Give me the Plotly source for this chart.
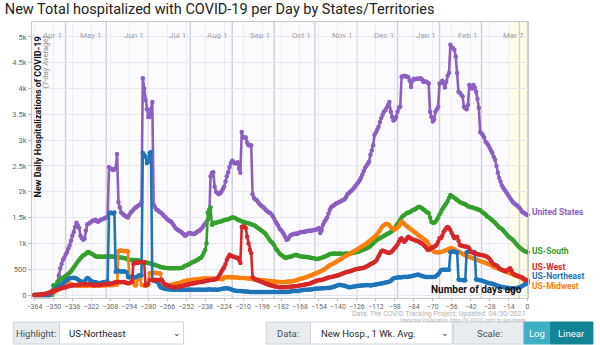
import plotly.graph_objects as go

# ---- data: 7-day average new hospitalizations, by days before Mar 7 2021 ----
days = list(range(-364, 1))

united_states = [
    0, 0, 0, 0, 0, 0, 0, 0, 0, 0, 0, 0, 50, 80,
    100, 120, 180, 250, 380, 520, 600, 680, 720, 780, 830, 900, 960, 1050,
    1150, 1220, 1320, 1400, 1350, 1300, 1150, 1100, 1070, 1090, 1250, 1370, 1380, 1400,
    1420, 1440, 1450, 1460, 1430, 1420, 1440, 1460, 1470, 1480, 1490, 1500, 1500, 2480,
    2450, 2440, 2420, 2430, 2460, 2730, 1800, 1700, 1600, 1580, 1550, 1530, 1510, 1500,
    1550, 1600, 1620, 1650, 1680, 1700, 1720, 1740, 1750, 1800, 4200, 4000, 3780, 3600,
    3450, 3450, 3600, 3740, 1750, 1700, 1650, 1640, 1620, 1600, 1580, 1550, 1520, 1500,
    1470, 1450, 1430, 1420, 1380, 1340, 1300, 1280, 1260, 1240, 1230, 1200, 1180, 1150,
    1160, 1180, 1200, 1200, 1190, 1180, 1180, 1200, 1220, 1240, 1250, 1280, 1310, 1350,
    1380, 1420, 1460, 1500, 2300, 2370, 2380, 2100, 2000, 1980, 1950, 1970, 2000, 2050,
    2100, 2200, 2300, 2380, 2480, 2560, 2600, 2570, 2550, 2560, 2570, 2450, 2370, 3160,
    3050, 3050, 3050, 2950, 2900, 2900, 2900, 1950, 1880, 1850, 1840, 1800, 1770, 1740,
    1720, 1700, 1670, 1640, 1620, 1600, 1590, 1560, 1520, 1480, 1420, 1380, 1340, 1280,
    1260, 1220, 1180, 1130, 1070, 1080, 1120, 1160, 1170, 1180, 1180, 1190, 1180, 1200,
    1210, 1220, 1220, 1220, 1230, 1240, 1240, 1250, 1240, 1250, 1260, 1260, 1270, 1280,
    1300, 1200, 1250, 1360, 1420, 1460, 1500, 1580, 1650, 1700, 1720, 1740, 1760, 1780,
    1790, 1800, 1810, 1830, 1840, 1860, 1900, 1950, 1970, 2000, 2020, 2050, 2080, 2110,
    2150, 2180, 2220, 2270, 2330, 2400, 2460, 2500, 2540, 2580, 2720, 2800, 2900, 3100,
    3150, 3200, 3260, 3350, 3430, 3500, 3550, 3580, 3630, 3680, 3740, 3550, 3450, 3380,
    3400, 3450, 3550, 3630, 3650, 4230, 4240, 4250, 4240, 4230, 4220, 4150, 4030, 4150,
    4190, 4180, 4190, 4190, 4190, 4200, 4180, 4130, 4140, 4130, 4120, 4100, 3550, 3450,
    3360, 3400, 3550, 3600, 3650, 4100, 4120, 4150, 4100, 4020, 4130, 4250, 4300, 4850,
    4800, 4780, 4750, 4620, 4300, 3940, 3920, 3880, 3850, 3650, 3620, 3600, 3680, 4070,
    4050, 4000, 4070, 4020, 3940, 3800, 3630, 3160, 3130, 3100, 3050, 2970, 2940, 2900,
    2850, 2800, 2750, 2680, 2620, 2500, 2370, 2270, 2200, 2120, 2080, 2040, 2000, 1960,
    1920, 1880, 1840, 1800, 1780, 1760, 1740, 1710, 1690, 1650, 1610, 1600, 1580, 1560,
    1550,
]

us_south = [
    0, 0, 0, 0, 0, 0, 0, 0, 0, 0, 0, 0, 0, 0,
    190, 110, 200, 250, 280, 300, 320, 330, 350, 370, 390, 410, 430, 460,
    500, 540, 570, 610, 650, 680, 710, 740, 770, 780, 800, 830, 830, 820,
    800, 790, 770, 750, 740, 740, 745, 740, 735, 740, 745, 740, 740, 745,
    740, 745, 740, 740, 738, 735, 730, 728, 725, 722, 718, 710, 700, 690,
    680, 680, 682, 680, 678, 680, 675, 668, 660, 650, 640, 635, 630, 625,
    620, 615, 608, 600, 590, 580, 572, 565, 555, 545, 540, 535, 530, 525,
    522, 520, 518, 520, 520, 518, 520, 522, 520, 520, 522, 530, 545, 560,
    570, 580, 595, 610, 625, 640, 650, 665, 680, 695, 710, 720, 760, 820,
    870, 1000, 1600, 1650, 1700, 1360, 1380, 1400, 1400, 1410, 1420, 1420, 1430, 1440,
    1450, 1460, 1460, 1470, 1480, 1490, 1500, 1500, 1490, 1480, 1460, 1450, 1440, 1430,
    1420, 1410, 1400, 1395, 1390, 1380, 1370, 1360, 1350, 1340, 1320, 1300, 1280, 1260,
    1240, 1220, 1200, 1170, 1130, 1090, 1050, 1030, 1000, 960, 900, 870, 840, 800,
    780, 760, 740, 720, 720, 730, 740, 740, 750, 760, 770, 780, 770, 760,
    750, 745, 740, 740, 738, 735, 730, 725, 720, 715, 710, 705, 700, 700,
    705, 710, 720, 730, 740, 750, 760, 780, 790, 800, 800, 805, 800, 800,
    800, 805, 800, 800, 795, 800, 805, 800, 800, 805, 810, 815, 820, 830,
    835, 840, 850, 860, 870, 880, 890, 900, 915, 930, 950, 980, 1000, 1030,
    1050, 1070, 1090, 1100, 1120, 1130, 1150, 1160, 1180, 1190, 1200, 1220, 1240, 1270,
    1300, 1340, 1380, 1420, 1460, 1500, 1530, 1550, 1570, 1590, 1600, 1610, 1620, 1640,
    1650, 1660, 1680, 1700, 1710, 1700, 1680, 1660, 1640, 1620, 1600, 1590, 1500, 1420,
    1400, 1400, 1420, 1460, 1500, 1560, 1610, 1660, 1700, 1740, 1780, 1820, 1880, 1940,
    1920, 1900, 1880, 1860, 1840, 1820, 1800, 1790, 1780, 1770, 1760, 1740, 1720, 1710,
    1700, 1700, 1690, 1680, 1670, 1660, 1650, 1640, 1620, 1600, 1580, 1560, 1520, 1510,
    1490, 1470, 1450, 1420, 1400, 1370, 1340, 1310, 1300, 1280, 1250, 1220, 1190, 1160,
    1130, 1110, 1090, 1070, 1040, 1010, 980, 950, 920, 900, 880, 860, 850, 840,
    830,
]

us_midwest = [
    0, 0, 0, 0, 0, 0, 0, 0, 0, 0, 0, 0, 10, 20,
    40, 60, 80, 100, 120, 140, 160, 180, 200, 210, 220, 230, 220, 210,
    200, 195, 190, 185, 180, 180, 175, 180, 185, 180, 175, 180, 185, 190,
    185, 180, 180, 185, 190, 185, 180, 185, 190, 190, 185, 190, 195, 190,
    195, 190, 195, 200, 200, 205, 850, 860, 860, 855, 850, 850, 855, 850,
    350, 350, 345, 350, 190, 185, 300, 330, 320, 200, 190, 185, 180, 190,
    200, 420, 430, 425, 420, 430, 425, 420, 420, 415, 200, 190, 185, 180,
    185, 190, 195, 200, 205, 210, 220, 225, 230, 235, 240, 250, 260, 270,
    275, 280, 285, 290, 290, 295, 300, 300, 305, 310, 310, 315, 320, 320,
    325, 320, 320, 315, 320, 320, 320, 315, 315, 310, 310, 310, 305, 305,
    340, 345, 345, 350, 345, 345, 340, 345, 340, 340, 335, 335, 330, 330,
    330, 330, 325, 325, 320, 320, 315, 310, 305, 300, 300, 295, 290, 290,
    285, 285, 280, 280, 275, 270, 270, 265, 260, 260, 255, 255, 250, 250,
    250, 248, 250, 252, 255, 258, 260, 262, 265, 270, 275, 280, 290, 300,
    310, 320, 325, 330, 340, 350, 360, 370, 380, 390, 400, 410, 420, 435,
    445, 455, 470, 485, 500, 520, 540, 560, 575, 590, 600, 615, 630, 650,
    665, 680, 695, 710, 730, 745, 760, 775, 790, 805, 820, 835, 850, 865,
    880, 895, 910, 930, 945, 960, 980, 1000, 1020, 1040, 1060, 1080, 1100, 1130,
    1150, 1180, 1220, 1250, 1300, 1330, 1350, 1370, 1380, 1370, 1350, 1320, 1300, 1280,
    1270, 1290, 1310, 1330, 1380, 1420, 1400, 1380, 1350, 1330, 1310, 1290, 1270, 1250,
    1230, 1210, 1190, 1170, 1150, 1130, 1110, 1090, 1070, 1050, 1030, 980, 930, 900,
    860, 840, 830, 830, 825, 830, 835, 840, 850, 860, 870, 880, 890, 910,
    905, 895, 880, 865, 850, 840, 830, 815, 800, 785, 770, 755, 745, 735,
    725, 715, 705, 695, 690, 680, 670, 660, 650, 640, 630, 620, 610, 600,
    590, 580, 560, 545, 535, 525, 515, 505, 495, 485, 475, 465, 450, 440,
    430, 420, 410, 400, 390, 380, 370, 360, 350, 340, 320, 300, 280, 260,
    250,
]

us_northeast = [
    0, 0, 0, 0, 0, 0, 0, 0, 0, 0, 0, 0, 20, 50,
    80, 100, 130, 150, 170, 190, 210, 230, 250, 270, 290, 310, 320, 330,
    330, 335, 330, 320, 300, 280, 265, 255, 250, 260, 300, 330, 320, 290,
    270, 255, 250, 245, 240, 235, 230, 235, 240, 245, 250, 255, 260, 1580,
    1600, 1590, 1580, 1600, 450, 460, 470, 460, 450, 455, 460, 450, 440, 350,
    340, 350, 360, 350, 340, 350, 360, 380, 390, 380, 2750, 2720, 2680, 2560,
    2580, 2750, 2770, 290, 280, 270, 260, 250, 200, 150, 140, 130, 120, 115,
    110, 110, 105, 105, 100, 100, 100, 105, 100, 100, 95, 100, 100, 100,
    100, 100, 105, 100, 100, 100, 100, 100, 100, 105, 100, 100, 100, 100,
    100, 100, 105, 110, 105, 100, 100, 105, 100, 100, 100, 110, 115, 120,
    125, 130, 130, 125, 120, 110, 100, 90, 85, 80, 80, 80, 80, 75,
    75, 70, 70, 70, 65, 60, 60, 60, 60, 60, 60, 60, 60, 60,
    60, 60, 60, 60, 60, 60, 60, 60, 60, 60, 60, 60, 60, 60,
    60, 60, 60, 60, 60, 60, 65, 70, 75, 80, 80, 80, 80, 80,
    85, 90, 95, 100, 100, 100, 100, 105, 105, 110, 115, 120, 120, 125,
    125, 125, 130, 130, 130, 135, 135, 135, 140, 145, 150, 160, 170, 180,
    190, 200, 195, 190, 185, 180, 170, 160, 150, 150, 155, 160, 165, 170,
    175, 180, 180, 185, 185, 190, 190, 190, 195, 190, 185, 190, 195, 200,
    205, 210, 215, 220, 225, 230, 235, 240, 245, 250, 260, 270, 300, 320,
    330, 335, 340, 345, 340, 345, 350, 350, 355, 350, 355, 360, 365, 370,
    380, 385, 390, 395, 390, 380, 370, 360, 355, 350, 350, 350, 350, 350,
    350, 350, 360, 380, 400, 440, 480, 490, 490, 490, 490, 490, 490, 830,
    840, 850, 840, 830, 830, 300, 290, 290, 290, 280, 285, 830, 840, 850,
    850, 840, 830, 830, 300, 295, 290, 285, 280, 270, 260, 250, 240, 235,
    230, 225, 220, 210, 200, 190, 180, 170, 160, 155, 150, 145, 140, 140,
    135, 130, 130, 130, 130, 130, 135, 140, 150, 160, 175, 190, 210, 220,
    230,
]

us_west = [
    0, 2, 4, 6, 8, 10, 14, 18, 24, 30, 40, 50, 60, 70,
    80, 90, 95, 100, 110, 120, 130, 140, 145, 150, 160, 170, 175, 180,
    185, 190, 190, 195, 195, 200, 205, 210, 210, 210, 205, 210, 210, 205,
    200, 195, 190, 190, 195, 190, 195, 200, 205, 210, 210, 215, 210, 215,
    220, 225, 230, 240, 245, 250, 250, 250, 245, 250, 250, 240, 235, 230,
    230, 240, 250, 600, 620, 630, 625, 630, 640, 635, 640, 640, 190, 200,
    220, 290, 290, 285, 290, 295, 290, 290, 285, 290, 295, 250, 210, 205,
    190, 175, 165, 160, 155, 150, 150, 155, 160, 165, 170, 175, 180, 190,
    195, 200, 210, 215, 220, 225, 230, 235, 240, 245, 250, 250, 250, 260,
    270, 275, 280, 285, 290, 290, 295, 300, 310, 330, 360, 400, 450, 500,
    540, 600, 680, 730, 780, 760, 750, 740, 730, 720, 720, 680, 620, 1320,
    1330, 1320, 1300, 1130, 1000, 870, 810, 350, 320, 300, 290, 280, 270, 260,
    250, 240, 230, 220, 210, 200, 190, 185, 180, 170, 165, 160, 155, 150,
    150, 150, 150, 155, 150, 155, 160, 160, 165, 165, 170, 170, 175, 180,
    185, 190, 195, 200, 205, 210, 215, 220, 230, 240, 250, 260, 270, 280,
    285, 290, 290, 300, 310, 320, 330, 340, 345, 350, 355, 360, 370, 375,
    385, 390, 400, 410, 420, 430, 440, 450, 450, 460, 470, 480, 490, 500,
    505, 510, 515, 520, 520, 530, 540, 550, 560, 580, 600, 610, 620, 640,
    660, 700, 750, 800, 850, 860, 850, 840, 830, 820, 820, 830, 850, 880,
    910, 940, 980, 1030, 1080, 1100, 1060, 1030, 1060, 1100, 1130, 1110, 1090, 1080,
    1070, 1060, 1050, 1040, 1030, 1010, 1000, 980, 950, 920, 880, 870, 890, 910,
    930, 935, 950, 980, 1030, 1100, 1100, 1150, 1220, 1260, 1300, 1320, 1300, 1260,
    1200, 1150, 1100, 1120, 1130, 1050, 970, 960, 950, 945, 940, 935, 930, 900,
    840, 830, 820, 810, 800, 790, 785, 780, 775, 770, 760, 750, 740, 720,
    700, 660, 620, 590, 580, 570, 550, 520, 500, 490, 480, 470, 460, 480,
    500, 520, 480, 420, 400, 390, 380, 370, 360, 350, 340, 320, 300, 290,
    285,
]

series = [
    ("United States", united_states, "#8d5ec2"),
    ("US-South", us_south, "#33a02c"),
    ("US-Midwest", us_midwest, "#ff7f0e"),
    ("US-Northeast", us_northeast, "#1f74b8"),
    ("US-West", us_west, "#d62728"),
]
for name, vals, _ in series:
    assert len(vals) == len(days), (name, len(vals))

# end-of-line label positions (value units, spread so they do not collide)
end_labels = [
    ("United States", 1600, "#8d5ec2"),
    ("US-South", 850, "#33a02c"),
    ("US-West", 550, "#d62728"),
    ("US-Northeast", 365, "#1f74b8"),
    ("US-Midwest", 180, "#ff7f0e"),
]

month_marks = [(-341, "Apr 1"), (-311, "May 1"), (-280, "Jun 1"), (-249, "Jul 1"),
               (-218, "Aug 1"), (-187, "Sep 1"), (-157, "Oct 1"), (-126, "Nov 1"),
               (-96, "Dec 1"), (-65, "Jan 1"), (-34, "Feb 1"), (-6, None), (0, "Mar 7")]

W, H = 600, 345
ML, MR, MT, MB = 24, 72, 22, 47
PW, PH = W - ML - MR, H - MT - MB


def fx(px):
    return (px - ML) / PW


def fy(py):
    return (H - MB - py) / PH


fig = go.Figure()

for name, vals, color in series:
    fig.add_trace(go.Scatter(
        x=days, y=vals, name=name, mode="lines+markers",
        line=dict(color=color, width=2.6),
        marker=dict(color=color, size=4.5),
        cliponaxis=False, showlegend=False,
    ))

shapes = []
annotations = []

# faint band over the final two weeks
shapes.append(dict(type="rect", xref="x", yref="paper", x0=-14, x1=0, y0=0, y1=1,
                   fillcolor="rgba(255,255,205,0.45)", line=dict(width=0), layer="below"))

for d, label in month_marks:
    shapes.append(dict(type="line", xref="x", yref="paper", x0=d, x1=d, y0=0, y1=1,
                       line=dict(color="#cfcfd6", width=1.4), layer="below"))
    if label:
        annotations.append(dict(x=d, y=fy(29), xref="x", yref="paper", text=label,
                                showarrow=False, xanchor="right", xshift=-2,
                                font=dict(size=8, color="#a0a0a8", family="Roboto")))

for name, v, color in end_labels:
    annotations.append(dict(x=0, y=v, xref="x", yref="y", text="<b>%s</b>" % name,
                            showarrow=False, xanchor="left", xshift=3, borderpad=0,
                            font=dict(size=8.5, color=color, family="Roboto")))

# axis captions inside the plot
annotations.append(dict(x=fx(30), y=fy(34), xref="paper", yref="paper",
                        text="<b>New Daily Hospitalizations of COVID-19</b>",
                        textangle=-90, showarrow=False, xanchor="center", yanchor="top",
                        font=dict(size=9, color="#111", family="Roboto")))
annotations.append(dict(x=fx(38.5), y=fy(34), xref="paper", yref="paper",
                        text="(7-day Average)", textangle=-90, showarrow=False,
                        xanchor="center", yanchor="top",
                        font=dict(size=7.5, color="#888", family="Roboto")))
annotations.append(dict(x=fx(524), y=fy(289), xref="paper", yref="paper",
                        text="<b>Number of days ago</b>", showarrow=False,
                        xanchor="right", yanchor="middle",
                        font=dict(size=10, color="#111", family="Roboto")))

# credits
annotations.append(dict(x=fx(527), y=fy(313.5), xref="paper", yref="paper",
                        text="Data: The COVID Tracking Project; Updated: 04/30/2021",
                        showarrow=False, xanchor="right", yanchor="middle", borderpad=0,
                        font=dict(size=7, color="#b0b0b0", family="Roboto")))
annotations.append(dict(x=fx(527), y=fy(319.5), xref="paper", yref="paper",
                        text="Interactive Visualization: https://91-DIVOC.com/ by @profwade",
                        showarrow=False, xanchor="right", yanchor="middle", borderpad=0,
                        font=dict(size=4.5, color="#b0b0b0", family="Roboto")))

# control bar under the chart
def box(x0, x1, fill, line="#ced4da", y0=322, y1=344):
    shapes.append(dict(type="rect", xref="paper", yref="paper",
                       x0=fx(x0), x1=fx(x1), y0=fy(y1), y1=fy(y0),
                       fillcolor=fill, line=dict(color=line, width=1), layer="above"))


def label(x, text, color="#495057", anchor="left", size=9.5):
    annotations.append(dict(x=fx(x), y=fy(333), xref="paper", yref="paper", text=text,
                            showarrow=False, xanchor=anchor, yanchor="middle",
                            font=dict(size=size, color=color, family="Roboto")))


box(5, 52, "#e9ecef")
box(52, 178, "#ffffff")
label(28.5, "Highlight:", anchor="center")
label(60, "US-Northeast", color="#212529")
label(171, "⌄", color="#343a40", anchor="center", size=9)

box(262, 307, "#e9ecef")
box(307, 451, "#ffffff")
label(284.5, "Data:", anchor="center")
label(316, "New Hosp., 1 Wk. Avg.", color="#212529")
label(444, "⌄", color="#343a40", anchor="center", size=9)

box(452, 524, "#e9ecef")
box(524, 551, "#3fb0c4", line="#3fb0c4")
box(551, 594, "#138496", line="#138496")
label(489, "Scale:", anchor="center")
label(537.5, "Log", color="#ffffff", anchor="center")
label(572.5, "Linear", color="#ffffff", anchor="center")

fig.update_layout(
    width=W, height=H,
    margin=dict(l=ML, r=MR, t=MT, b=MB, pad=0),
    paper_bgcolor="#ffffff",
    plot_bgcolor="#fbfbfe",
    title=dict(text="New Total hospitalized with COVID-19 per Day by States/Territories",
               x=0.008, xanchor="left", y=1 - 9 / H, yanchor="middle",
               font=dict(size=14.5, color="#222", family="Roboto")),
    xaxis=dict(range=[-365.8, 0.3], tick0=-364, dtick=14, ticks="outside", ticklen=2,
               tickangle=0,
               tickcolor="#bbb", tickfont=dict(size=7, color="#666", family="Roboto"),
               showgrid=True, gridcolor="#ececf2", gridwidth=1, zeroline=False,
               showline=True, linecolor="#c8c8cc", mirror=True),
    yaxis=dict(range=[-58, 5290], tick0=0, dtick=500, tickformat="~s", ticks="outside",
               ticklen=3, tickcolor="#bbb",
               tickfont=dict(size=7.5, color="#666", family="Roboto"),
               showgrid=True, gridcolor="#e6e6ee", gridwidth=1, zeroline=False,
               showline=True, linecolor="#c8c8cc", mirror=True),
    shapes=shapes,
    annotations=annotations,
)

fig.write_html("out.html")
